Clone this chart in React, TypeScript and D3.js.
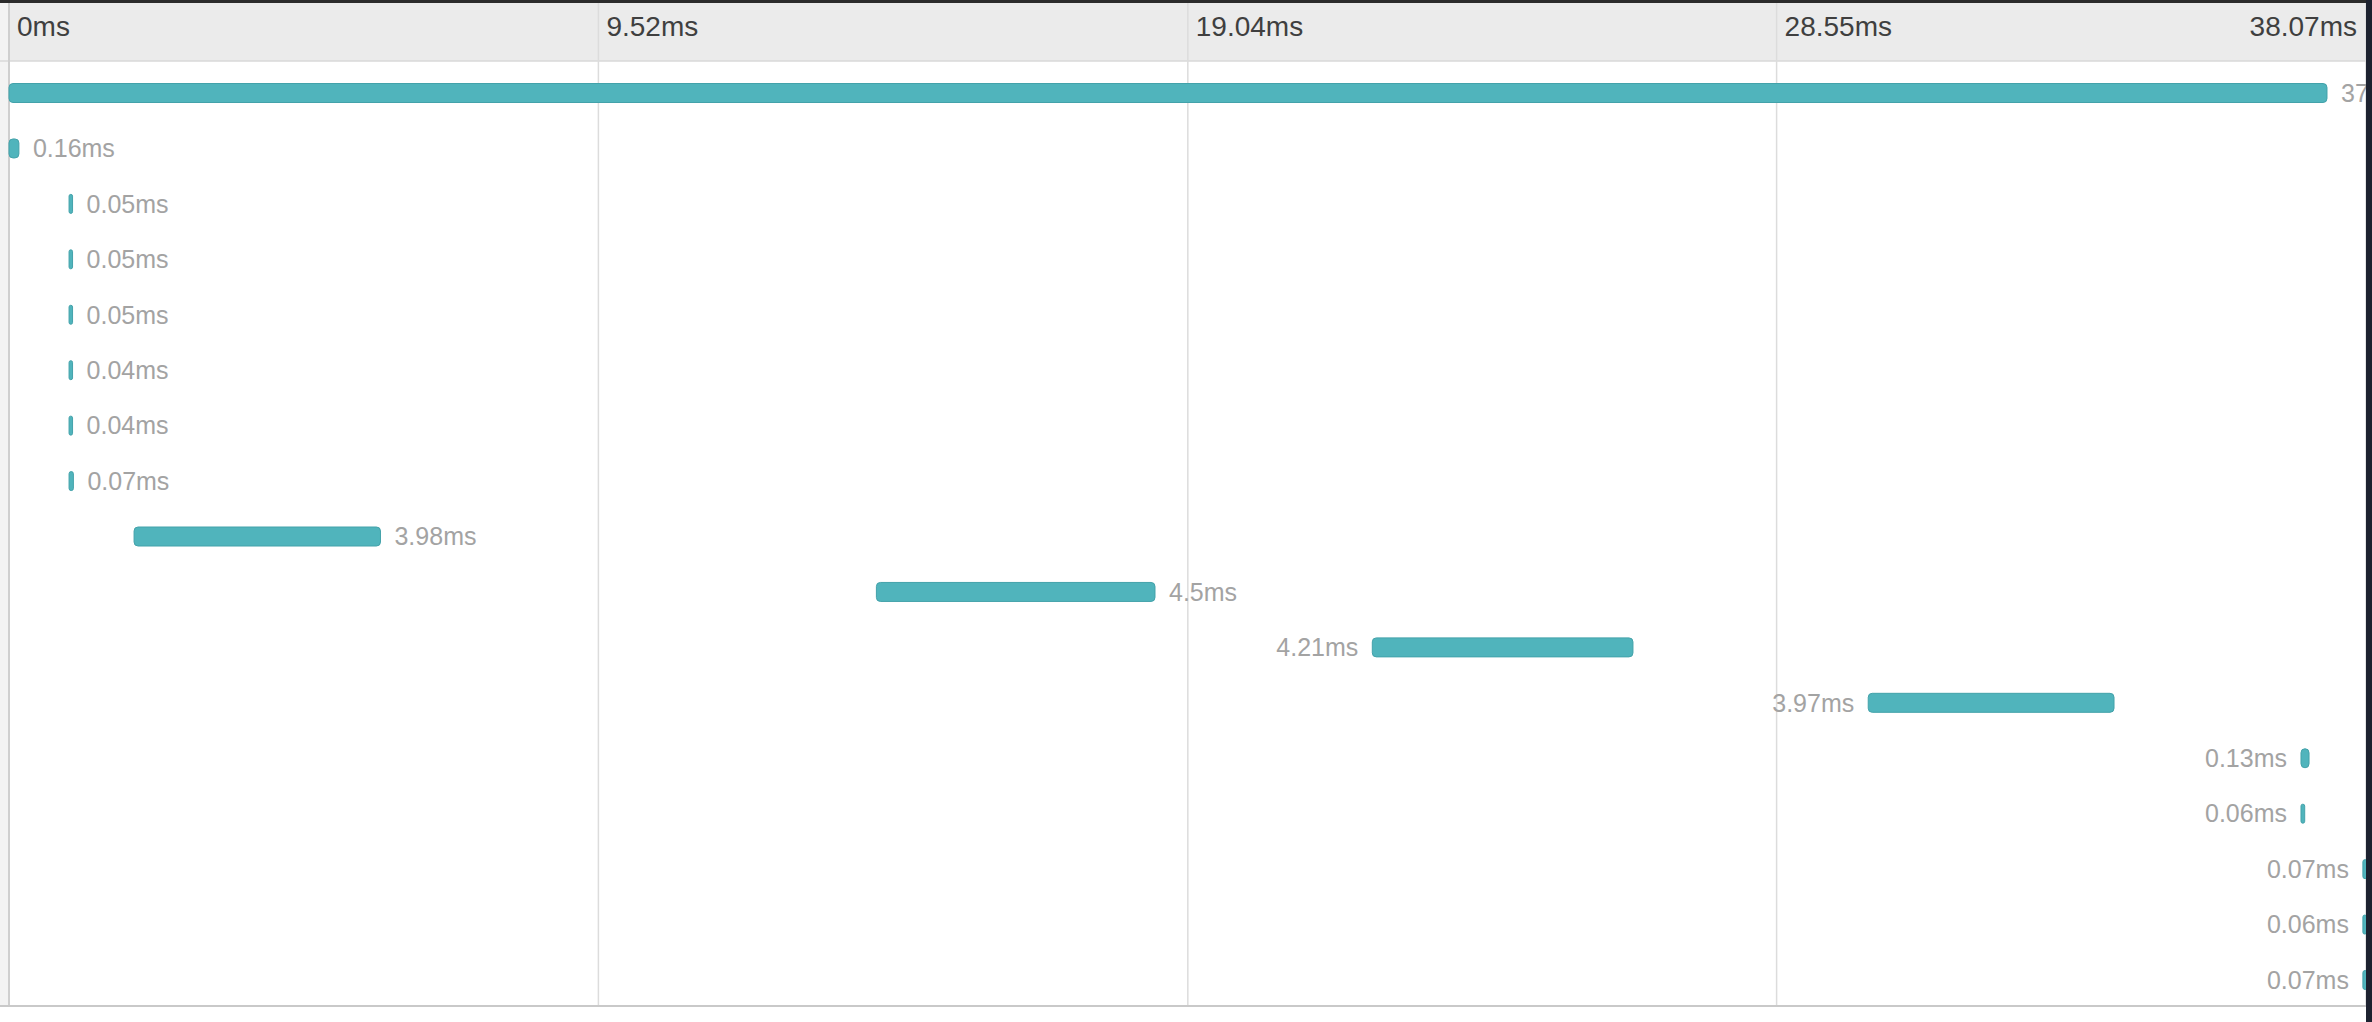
import React from "react";
import * as d3 from "d3";

// ---- data ----
const spanStarts = [0, 0, 0.97, 0.97, 0.97, 0.97, 0.97, 0.97, 2.02, 14.01, 22.02, 30.03, 37.02, 37.02, 38.02, 38.02, 38.02];
const spanDurations = [37.44, 0.16, 0.05, 0.05, 0.05, 0.04, 0.04, 0.07, 3.98, 4.5, 4.21, 3.97, 0.13, 0.06, 0.07, 0.06, 0.07];
const tickValues = [0, 9.52, 19.04, 28.55, 38.07];
const tickLabels = ["0ms", "9.52ms", "19.04ms", "28.55ms", "38.07ms"];
const totalDuration = 38.07;

const W = 2372;
const H = 1022;

export default function App() {
  const x = d3.scaleLinear().domain([0, totalDuration]).range([9, 2366]);
  const rows = d3.range(spanDurations.length);
  const y = d3.scalePoint<number>().domain(rows).range([93, 980]);
  const barH = 19;
  const headerTop = 3;
  const headerBottom = 61;
  const bottom = 1006;
  const barColor = "#50b4bc";
  const barStroke = "#43a2aa";

  return (
    <svg
      width={W}
      height={H}
      style={{ position: "fixed", left: 0, top: 0, background: "#ffffff" }}
      fontFamily="'Liberation Sans', Arial, Helvetica, sans-serif"
    >
      <defs>
        <clipPath id="panel">
          <rect x={0} y={0} width={2366} height={H} />
        </clipPath>
      </defs>
      <rect x={0} y={0} width={W} height={H} fill="#ffffff" />
      {/* left strip */}
      <rect x={0} y={headerTop} width={8} height={bottom - headerTop} fill="#f3f3f3" />
      {/* header */}
      <rect x={9} y={headerTop} width={2366 - 9} height={headerBottom - headerTop} fill="#ebebeb" />
      <line x1={0} x2={2366} y1={headerBottom} y2={headerBottom} stroke="#d9d9d9" strokeWidth={1.5} />
      {/* grid lines */}
      {tickValues.map((t, i) => (
        <line
          key={"g" + i}
          x1={x(t)}
          x2={x(t)}
          y1={headerTop}
          y2={bottom}
          stroke={i === 0 ? "#cfcfcf" : "#dcdcdc"}
          strokeWidth={i === 0 ? 2 : 1.5}
        />
      ))}
      {/* tick labels */}
      {tickLabels.map((t, i) => {
        const last = i === tickLabels.length - 1;
        return (
          <text
            key={"t" + i}
            x={last ? x(tickValues[i]) - 9 : x(tickValues[i]) + 8}
            y={36}
            fontSize={28}
            fill="#3f3f3f"
            textAnchor={last ? "end" : "start"}
          >
            {t}
          </text>
        );
      })}
      {/* bars */}
      <g clipPath="url(#panel)">
        {rows.map((i) => {
          const x0 = x(spanStarts[i]);
          const w = Math.max(x(spanStarts[i] + spanDurations[i]) - x0, 3.5);
          const cy = y(i) as number;
          const leftLabel = spanStarts[i] > totalDuration / 2;
          return (
            <g key={"r" + i}>
              <rect
                x={x0}
                y={cy - barH / 2}
                width={w}
                height={barH}
                rx={Math.min(4, w / 2)}
                fill={barColor}
                stroke={barStroke}
                strokeWidth={1}
              />
              <text
                x={leftLabel ? x0 - 14 : x0 + w + 14}
                y={cy}
                dy="0.35em"
                fontSize={25}
                fill="#a3a3a3"
                textAnchor={leftLabel ? "end" : "start"}
              >
                {spanDurations[i] + "ms"}
              </text>
            </g>
          );
        })}
      </g>
      {/* bottom border */}
      <line x1={0} x2={2366} y1={bottom} y2={bottom} stroke="#c9c9c9" strokeWidth={2} />
      {/* screenshot edges */}
      <rect x={0} y={0} width={W} height={headerTop} fill="#2b2b2b" />
      <rect x={2366} y={0} width={W - 2366} height={H} fill="#1d2230" />
    </svg>
  );
}
